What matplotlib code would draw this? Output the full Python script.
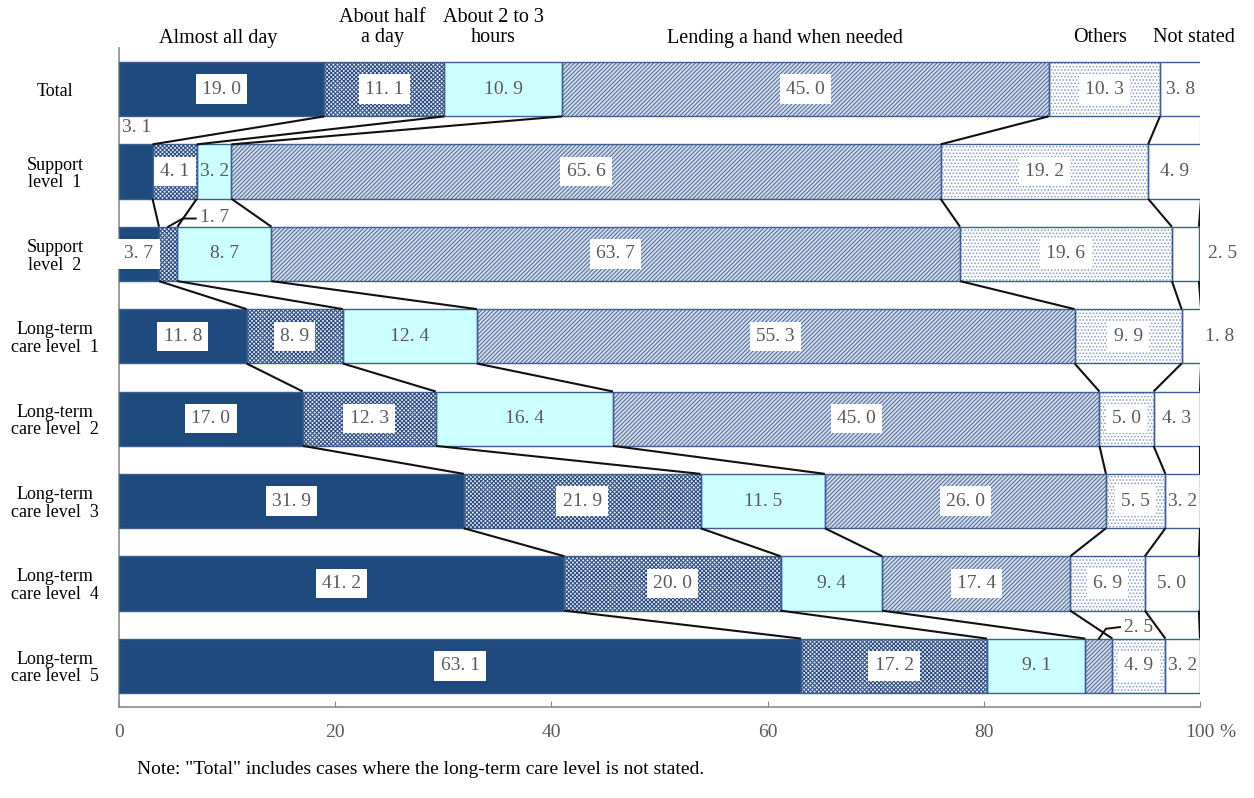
import matplotlib
matplotlib.use("Agg")
import matplotlib.pyplot as plt
from matplotlib.transforms import blended_transform_factory
import numpy as np

# ---- data -------------------------------------------------------------
groups = ["Total", "Support\nlevel  1", "Support\nlevel  2",
          "Long-term\ncare level  1", "Long-term\ncare level  2",
          "Long-term\ncare level  3", "Long-term\ncare level  4",
          "Long-term\ncare level  5"]
categories = ["Almost all day", "About half\na day", "About 2 to 3\nhours",
              "Lending a hand when needed", "Others", "Not stated"]

almost_all_day = [19.0, 3.1, 3.7, 11.8, 17.0, 31.9, 41.2, 63.1]
about_half_day = [11.1, 4.1, 1.7, 8.9, 12.3, 21.9, 20.0, 17.2]
about_2_3_hours = [10.9, 3.2, 8.7, 12.4, 16.4, 11.5, 9.4, 9.1]
lending_hand = [45.0, 65.6, 63.7, 55.3, 45.0, 26.0, 17.4, 2.5]
others = [10.3, 19.2, 19.6, 9.9, 5.0, 5.5, 6.9, 4.9]
not_stated = [3.8, 4.9, 2.5, 1.8, 4.3, 3.2, 5.0, 3.2]

x_ticks = [0, 20, 40, 60, 80, 100]
x_tick_labels = ["0", "20", "40", "60", "80", "100"]
note = 'Note: "Total" includes cases where the long-term care level is not stated.'

series = [almost_all_day, about_half_day, about_2_3_hours,
          lending_hand, others, not_stated]

# ---- styling ------------------------------------------------------------
NAVY = "#1f4a7e"
EDGE = "#3d5f91"
LABEL_GREY = "#5a5a5a"
SERIF = ["Liberation Serif", "DejaVu Serif"]

# (face colour, hatch, hatch colour, white box behind the value)
styles = [
    (NAVY, None, NAVY, True),
    ("#e8ecf3", "xxxxxxxx", "#2a4c80", True),
    ("#ccffff", None, EDGE, False),
    ("#d3dcea", "////////", "#4f6c9a", True),
    ("white", ".....", "#8a9fc2", True),
    ("white", None, EDGE, True),
]

plt.rcParams["hatch.linewidth"] = 0.75
plt.rcParams["font.family"] = SERIF

fig = plt.figure(figsize=(12.54, 7.98), dpi=100)
ax = fig.add_axes([119 / 1254, 1 - 707 / 798, 1081 / 1254, 659 / 798])

n = len(groups)
ypos = np.arange(n)
height = 0.66

values = np.array(series).T          # rows = groups, cols = categories
cum = np.cumsum(values, axis=1)
left = cum - values

for k, (face, hatch, hcol, boxed) in enumerate(styles):
    ax.barh(ypos, values[:, k], left=left[:, k], height=height,
            color=face, hatch=hatch, edgecolor=hcol, linewidth=0, zorder=2)
    ax.barh(ypos, values[:, k], left=left[:, k], height=height,
            fill=False, edgecolor=EDGE, linewidth=1.0, zorder=3)

# connector lines between neighbouring bars
for i in range(n - 1):
    for k in range(values.shape[1]):
        ax.plot([cum[i, k], cum[i + 1, k]],
                [ypos[i] + height / 2, ypos[i + 1] - height / 2],
                color="#111111", lw=1.5, zorder=4, solid_capstyle="butt")


def fmt(v):
    return f"{v:.1f}".replace(".", ". ")


# values placed outside their segment: (group, category) -> placement
outside = {
    (1, 0): dict(xy=(0.3, 0.47), ha="left", leader=None),
    (2, 1): dict(xy=(7.5, 1.56), ha="left", leader=[(4.55, 1.67), (5.9, 1.57), (7.1, 1.57)]),
    (7, 3): dict(xy=(93.0, 6.53), ha="left", leader=[(90.65, 6.67), (91.3, 6.55), (92.6, 6.53)]),
    (2, 5): dict(xy=(100.7, 2.0), ha="left", leader=None),
    (3, 5): dict(xy=(100.5, 3.0), ha="left", leader=None),
}

for i in range(n):
    for k in range(values.shape[1]):
        v = values[i, k]
        if (i, k) in outside:
            o = outside[(i, k)]
            ax.text(o["xy"][0], o["xy"][1], fmt(v), ha=o["ha"], va="center",
                    fontsize=14, color=LABEL_GREY, zorder=6, clip_on=False)
            if o["leader"]:
                lx, ly = zip(*o["leader"])
                ax.plot(lx, ly, color="#111111", lw=1.4, zorder=5, clip_on=False)
            continue
        cx = left[i, k] + v / 2
        box = None
        if styles[k][3] and k != 5:
            box = dict(boxstyle="square,pad=0.32", fc="white", ec="none")
        ax.text(cx, ypos[i], fmt(v), ha="center", va="center", fontsize=14,
                color=LABEL_GREY, bbox=box, zorder=6)

# axes
ax.set_xlim(0, 100)
ax.set_ylim(n - 0.5, -0.5)
ax.set_yticks(ypos)
ax.set_yticklabels(groups, ha="center", fontsize=13, linespacing=1.05)
ax.tick_params(axis="y", length=0, pad=46)
ax.set_xticks(x_ticks)
ax.set_xticklabels(x_tick_labels, fontsize=14, color=LABEL_GREY)
ax.tick_params(axis="x", direction="in", length=4, color="#888888", pad=12)
for side in ("top", "right"):
    ax.spines[side].set_visible(False)
for side in ("left", "bottom"):
    ax.spines[side].set_color("#8c8c8c")
    ax.spines[side].set_linewidth(1.2)

pct_tf = blended_transform_factory(ax.transData, ax.transAxes)
ax.text(101.8, -0.026, "%", transform=pct_tf, ha="left", va="top",
        fontsize=14, color=LABEL_GREY)

# category headings above the bars
head_tf = blended_transform_factory(ax.transData, fig.transFigure)
head_x = [9.2, 24.4, 34.6, 61.6, 90.8, 99.4]
for name, hx in zip(categories, head_x):
    two = "\n" in name
    hy = 1 - (27.5 if two else 38) / 798
    ax.text(hx, hy, name, transform=head_tf, ha="center", va="center",
            fontsize=14.5, linespacing=1.1, color="black")

fig.text(137 / 1254, 1 - 770 / 798, note, ha="left", va="center", fontsize=14,
         color="black")

fig.savefig("out.png", dpi=100)
